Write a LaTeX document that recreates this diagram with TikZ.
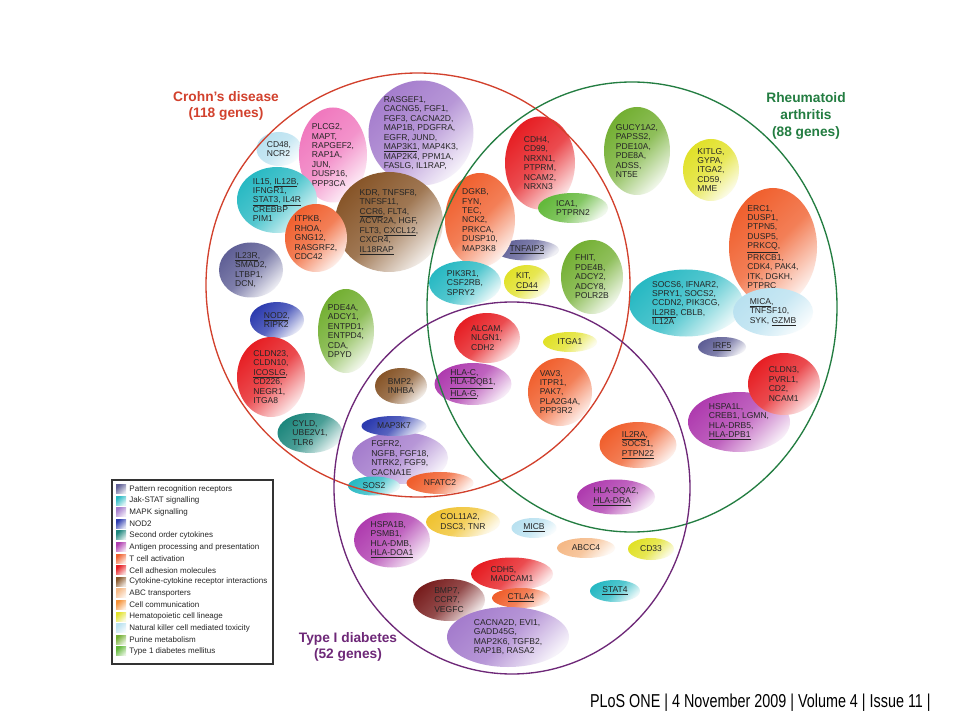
\documentclass[tikz,border=0pt]{standalone}
\usepackage{fontspec}
\setmainfont{Liberation Sans}
\newfontfamily\footfont[FakeStretch=0.77]{Liberation Sans}
\usetikzlibrary{shapes.geometric,positioning}

\definecolor{prr}{RGB}{95,95,150}
\definecolor{jak}{RGB}{40,185,195}
\definecolor{mapk}{RGB}{165,125,205}
\definecolor{nod}{RGB}{45,60,175}
\definecolor{soc}{RGB}{30,135,125}
\definecolor{agp}{RGB}{175,60,175}
\definecolor{tca}{RGB}{240,95,45}
\definecolor{cam}{RGB}{230,30,35}
\definecolor{cyt}{RGB}{135,85,40}
\definecolor{abc}{RGB}{245,185,135}
\definecolor{ccom}{RGB}{245,145,55}
\definecolor{hcl}{RGB}{225,225,40}
\definecolor{nkc}{RGB}{185,225,240}
\definecolor{pur}{RGB}{115,175,50}
\definecolor{tdm}{RGB}{100,185,60}
\definecolor{pinkish}{RGB}{240,120,190}
\definecolor{maroon}{RGB}{120,30,30}
\definecolor{gold}{RGB}{240,195,50}
\definecolor{crohn}{RGB}{210,65,45}
\definecolor{rheum}{RGB}{35,125,65}
\definecolor{diab}{RGB}{110,40,120}

\tikzset{bub/.style n args={3}{ellipse, inner sep=0pt,
    minimum width=#2*0.75pt, minimum height=#3*0.75pt,
    top color=#1, bottom color=#1!10, middle color=#1!80, shading angle=45}}
\tikzset{gene/.style={align=left, inner sep=0pt, text=black!85,
    font=\fontsize{6.4}{7.1}\selectfont}}
\tikzset{title/.style={align=center, inner sep=0pt,
    font=\bfseries\fontsize{10.3}{12.4}\selectfont}}
\tikzset{swatch/.style={rectangle, inner sep=0pt, minimum width=7.5pt,
    minimum height=6.75pt, top color=#1, bottom color=#1!15, shading angle=45}}
\tikzset{legtext/.style={inner sep=0pt, text=black!85,
    font=\fontsize{6}{7}\selectfont}}

\begin{document}
\begin{tikzpicture}[x=0.75pt,y=-0.75pt]
  \path[fill=white,use as bounding box] (0,0) rectangle (960,720);

  % Crohn's disease only
  \node[bub={nkc}{45}{34}, label={[gene]center:{CD48,\\NCR2}}] (cd48) at (279,149) {};
  \node[bub={pinkish}{68}{95}, label={[gene]center:{PLCG2,\\MAPT,\\RAPGEF2,\\RAP1A,\\JUN,\\DUSP16,\\PPP3CA}}] (plcg2) at (333,155) {};
  \node[bub={mapk}{105}{105}, label={[gene]center:{RASGEF1,\\CACNG5, FGF1,\\FGF3, CACNA2D,\\MAP1B, PDGFRA,\\EGFR, JUND,\\\underline{MAP3K1}, MAP4K3,\\MAP2K4, PPM1A,\\FASLG, IL1RAP,}}] (rasgef1) at (421,133) {};
  \node[bub={jak}{80}{66}, label={[gene]center:{IL15, \underline{IL12B},\\IFNGR1,\\\underline{STAT3}, \underline{IL4R}\\CREBBP\\PIM1}}] (il15) at (277,200) {};
  \node[bub={cyt}{108}{100}, label={[gene]center:{KDR, TNFSF8,\\TNFSF11,\\\underline{CCR6}, FLT4,\\ACVR2A, HGF,\\FLT3, \underline{CXCL12},\\CXCR4,\\\underline{IL18RAP}}}] (kdr) at (389,222) {};
  \node[bub={tca}{62}{68}, label={[gene]center:{ITPKB,\\RHOA,\\GNG12,\\RASGRF2,\\CDC42}}] (itpkb) at (316,238) {};
  \node[bub={prr}{64}{55}, label={[gene]center:{\underline{IL23R},\\SMAD2,\\LTBP1,\\DCN,}}] (il23r) at (251,270) {};
  \node[bub={nod}{54}{36}, label={[gene]center:{\underline{NOD2},\\RIPK2}}] (nod2) at (277,320) {};
  \node[bub={pur}{56}{84}, label={[gene]center:{PDE4A,\\ADCY1,\\ENTPD1,\\ENTPD4,\\CDA,\\DPYD}}] (pde4a) at (346,331) {};
  \node[bub={cam}{68}{80}, label={[gene]center:{CLDN23,\\CLDN10,\\\underline{ICOSLG},\\CD226,\\NEGR1,\\ITGA8}}] (cldn23) at (271,377) {};
  \node[bub={soc}{65}{40}, label={[gene]center:{CYLD,\\UBE2V1,\\TLR6}}] (cyld) at (310,433) {};
  \node[bub={cyt}{52}{36}, label={[gene]center:{BMP2,\\INHBA}}] (bmp2) at (401,386) {};

  % Crohn's disease and type I diabetes
  \node[bub={mapk}{96}{52}, label={[gene]center:{FGFR2,\\NGFB, FGF18,\\NTRK2, FGF9,\\CACNA1E}}] (fgfr2) at (400,458) {};
  \node[bub={nod}{65}{20}, label={[gene]center:{MAP3K7}}] (map3k7) at (394,426) {};
  \node[bub={jak}{52}{19}, label={[gene]center:{SOS2}}] (sos2) at (374,486) {};
  \node[bub={tca}{67}{22}, label={[gene]center:{NFATC2}}] (nfatc2) at (440,483) {};

  % Crohn's disease and rheumatoid arthritis
  \node[bub={cam}{70}{93}, label={[gene]center:{CDH4,\\CD99,\\NRXN1,\\PTPRM,\\NCAM2,\\NRXN3}}] (cdh4) at (540,163) {};
  \node[bub={prr}{64}{21}, label={[gene]center:{\underline{TNFAIP3}}}] (tnfaip3) at (527,250) {};
  \node[bub={tca}{70}{94}, label={[gene]center:{DGKB,\\FYN,\\TEC,\\NCK2,\\PRKCA,\\DUSP10,\\MAP3K8}}] (dgkb) at (480,220) {};
  \node[bub={tdm}{70}{30}, label={[gene]center:{ICA1,\\PTPRN2}}] (ica1) at (573,208) {};
  \node[bub={jak}{72}{44}, label={[gene]center:{PIK3R1,\\CSF2RB,\\SPRY2}}] (pik3r1) at (465,283) {};
  \node[bub={hcl}{46}{34}, label={[gene]center:{KIT,\\\underline{CD44}}}] (kit) at (527,282) {};
  \node[bub={pur}{62}{74}, label={[gene]center:{FHIT,\\PDE4B,\\ADCY2,\\ADCY8,\\POLR2B}}] (fhit) at (592,277) {};

  % all three diseases
  \node[bub={cam}{66}{50}, label={[gene]center:{ALCAM,\\NLGN1,\\CDH2}}] (alcam) at (487,338) {};
  \node[bub={hcl}{54}{20}, label={[gene]center:{ITGA1}}] (itga1) at (570,342) {};
  \node[bub={agp}{77}{42}, label={[gene]center:{\underline{HLA-C},\\\underline{HLA-DQB1},\\\underline{HLA-G},}}] (hlac) at (473,384) {};
  \node[bub={tca}{64}{68}, label={[gene]center:{VAV3,\\ITPR1,\\PAK7,\\PLA2G4A,\\PPP3R2}}] (vav3) at (560,392) {};

  % rheumatoid arthritis only
  \node[bub={pur}{66}{88}, label={[gene]center:{GUCY1A2,\\PAPSS2,\\PDE10A,\\PDE8A,\\ADSS,\\NT5E}}] (gucy1a2) at (637,151) {};
  \node[bub={hcl}{56}{62}, label={[gene]center:{KITLG,\\GYPA,\\ITGA2,\\CD59,\\MME}}] (kitlg) at (711,170) {};
  \node[bub={tca}{88}{118}, label={[gene]center:{ERC1,\\DUSP1,\\PTPN5,\\DUSP5,\\\underline{PRKCQ},\\PRKCB1,\\CDK4, PAK4,\\ITK, DGKH,\\PTPRC}}] (erc1) at (773,247) {};
  \node[bub={jak}{114}{67}, label={[gene]center:{SOCS6, IFNAR2,\\SPRY1, SOCS2,\\CCDN2, PIK3CG,\\\underline{IL2RB}, CBLB,\\IL12A}}] (socs6) at (686,303) {};
  \node[bub={nkc}{80}{48}, label={[gene]center:{\underline{MICA},\\TNFSF10,\\SYK, \underline{GZMB}}}] (mica) at (773,312) {};
  \node[bub={prr}{48}{20}, label={[gene]center:{\underline{IRF5}}}] (irf5) at (722,347) {};
  \node[bub={agp}{102}{60}, label={[gene]center:{HSPA1L,\\CREB1, LGMN,\\HLA-DRB5,\\\underline{HLA-DPB1}}}] (hspa1l) at (739,422) {};
  \node[bub={cam}{72}{62}, label={[gene]center:{CLDN3,\\PVRL1,\\CD2,\\NCAM1}}] (cldn3) at (784,384) {};

  % rheumatoid arthritis and type I diabetes
  \node[bub={tca}{77}{46}, label={[gene]center:{\underline{IL2RA},\\SOCS1,\\\underline{PTPN22}}}] (il2ra) at (638,445) {};
  \node[bub={agp}{78}{35}, label={[gene]center:{HLA-DQA2,\\\underline{HLA-DRA}}}] (hladqa2) at (616,497) {};

  % type I diabetes only
  \node[bub={agp}{76}{55}, label={[gene]center:{HSPA1B,\\PSMB1,\\HLA-DMB,\\\underline{HLA-DOA1}}}] (hspa1b) at (392,540) {};
  \node[bub={gold}{74}{30}, label={[gene]center:{COL11A2,\\DSC3, TNR}}] (col11a2) at (463,522) {};
  \node[bub={nkc}{45}{20}, label={[gene]center:{\underline{MICB}}}] (micb) at (534,528) {};
  \node[bub={abc}{58}{20}, label={[gene]center:{ABCC4}}] (abcc4) at (586,548) {};
  \node[bub={hcl}{46}{22}, label={[gene]center:{CD33}}] (cd33) at (651,549) {};
  \node[bub={cam}{82}{33}, label={[gene]center:{CDH5,\\MADCAM1}}] (cdh5) at (512,574) {};
  \node[bub={maroon}{72}{42}, label={[gene]center:{BMP7,\\CCR7,\\VEGFC}}] (bmp7) at (449,600) {};
  \node[bub={tca}{58}{20}, label={[gene]center:{\underline{CTLA4}}}] (ctla4) at (521,598) {};
  \node[bub={jak}{50}{22}, label={[gene]center:{\underline{STAT4}}}] (stat4) at (615,591) {};
  \node[bub={mapk}{122}{60}, label={[gene]center:{CACNA2D, EVI1,\\GADD45G,\\MAP2K6, TGFB2,\\RAP1B, RASA2}}] (cacna2d) at (508,637) {};

  % the three gene sets
  \draw[crohn, line width=1pt] (418,285) circle [radius=159pt];
  \draw[rheum, line width=1pt] (632,307) ellipse [x radius=153.75pt, y radius=168.75pt];
  \draw[diab, line width=1pt] (512,488) ellipse [x radius=133.5pt, y radius=139.5pt];

  \node[title, text=crohn] (cdtitle) at (226,106) {Crohn's disease\\(118 genes)};
  \node[title, text=rheum] (ratitle) at (806,116) {Rheumatoid\\arthritis\\(88 genes)};
  \node[title, text=diab] (t1dtitle) at (348,647) {Type I diabetes\\(52 genes)};

  % legend
  \draw[black!80, line width=0.8pt] (112,480) rectangle (273,664);
  \foreach \col/\txt [count=\i] in {prr/Pattern recognition receptors,
      jak/Jak-STAT signalling, mapk/MAPK signalling, nod/NOD2,
      soc/Second order cytokines, agp/Antigen processing and presentation,
      tca/T cell activation, cam/Cell adhesion molecules,
      cyt/Cytokine-cytokine receptor interactions, abc/ABC transporters,
      ccom/Cell communication, hcl/Hematopoietic cell lineage,
      nkc/Natural killer cell mediated toxicity, pur/Purine metabolism,
      tdm/Type 1 diabetes mellitus}
  {
    \node[swatch=\col] (lg\i) at (121,{489+11.6*(\i-1)}) {};
    \node[legtext, right=2.2pt of lg\i] (lt\i) {\txt};
  }

  \node[anchor=east, inner sep=0pt, font=\footfont\fontsize{14}{16}\selectfont] (foot) at (931,703)
    {PLoS ONE | 4 November 2009 | Volume 4 | Issue 11 |};
\end{tikzpicture}
\end{document}
